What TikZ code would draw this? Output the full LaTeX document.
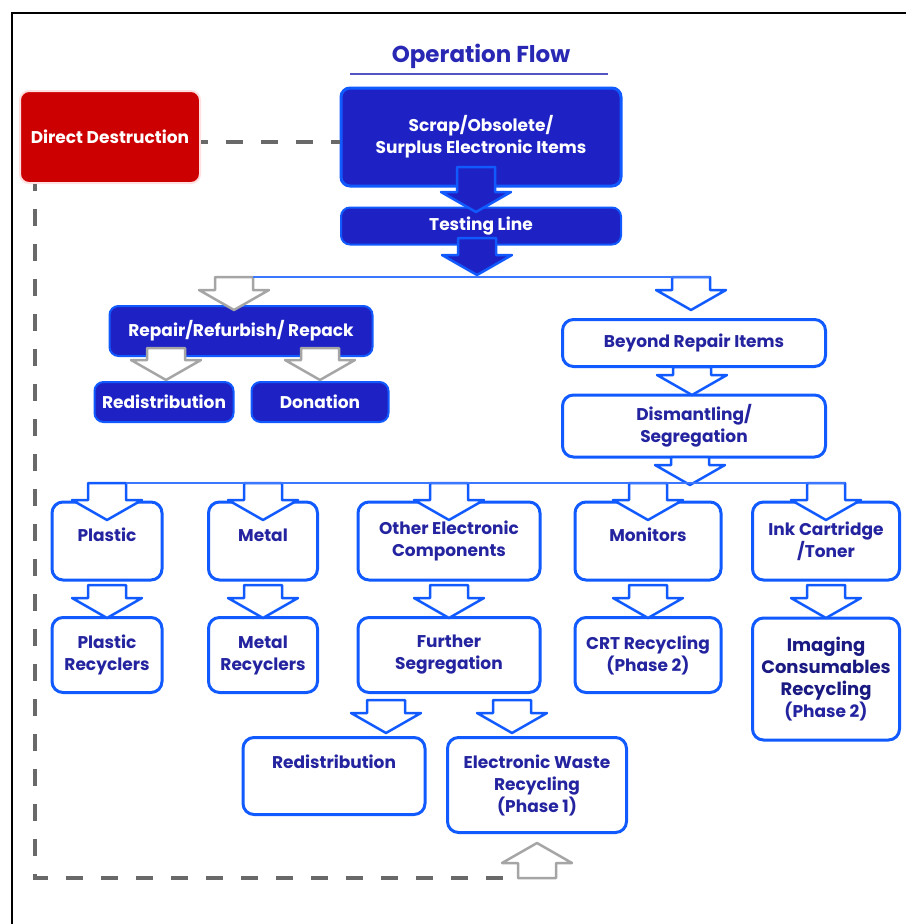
\documentclass[tikz,border=0pt]{standalone}
\usepackage{fontspec}
\setmainfont{Poppins}
\usetikzlibrary{positioning}
\definecolor{opblue}{RGB}{30,34,196}
\definecolor{edgeblue}{RGB}{16,90,255}
\definecolor{lineblue}{RGB}{60,120,255}
\definecolor{navytext}{RGB}{36,36,160}
\definecolor{deepnavy}{RGB}{26,26,130}
\definecolor{titleblue}{RGB}{40,40,180}
\definecolor{destroyred}{RGB}{204,0,0}
\definecolor{arrowgray}{RGB}{165,165,165}
\definecolor{dashgray}{RGB}{105,105,105}

\begin{document}
\begin{tikzpicture}[x=1pt,y=-1pt,
		every node/.style={
			font=\bfseries\fontsize{17}{22}\selectfont,
			align=center
		},
		darkbox/.style={rounded corners=9pt, fill=opblue, draw=edgeblue, line width=2pt, text=white},
		lightbox/.style={rounded corners=11pt, fill=white, draw=edgeblue, line width=3pt, text=navytext},
		toptext/.style={text height=12pt, text depth=12pt},
		darkarrow/.style={fill=opblue, draw=edgeblue, line width=2.5pt, line join=round},
		bluearrow/.style={fill=white, draw=edgeblue, line width=2.5pt, line join=round},
		grayarrow/.style={fill=white, draw=arrowgray, line width=2.5pt, line join=round},
		hubline/.style={lineblue, line width=2.5pt},
		dashline/.style={dashgray, line width=3.5pt, dash pattern=on 17pt off 18pt, dash phase=10pt},
		flowarrow/.pic={
			\draw[pic actions] (-19,0) -- (19,0) -- (19,#1) -- (35,#1) -- (0,#1+20) -- (-35,#1) -- (-19,#1) -- cycle;
			\coordinate (-tl) at (-19,0);
			\coordinate (-tr) at (19,0);
		}
	]
	\def\bigline{\color{deepnavy}\fontsize{18}{23}\selectfont}

	\useasboundingbox (0,0) rectangle (906,924);
	\draw[line width=2.5pt] (906,13) -| (12,924);

	% title
	\node[text=titleblue, font=\bfseries\fontsize{23}{26}\selectfont] (title) at (481,56) {Operation Flow};
	\draw[titleblue!80, line width=2pt] (350,74) -- (608,74);

	% top part
	\node[fill=destroyred, draw=red!12, line width=2pt, rounded corners=9pt, minimum width=180pt, minimum height=92pt, text=white] (destroy) at (110,137) {Direct Destruction};
	\node[darkbox, line width=3pt, minimum width=280pt, minimum height=98pt] (scrap) at (481,137) {Scrap/Obsolete/\\Surplus Electronic Items};
	\node[darkbox, minimum width=280pt, minimum height=37pt] (testing) at (481,226) {Testing Line};

	% left branch
	\node[darkbox, minimum width=263pt, minimum height=50pt] (repair) at (241,331) {Repair/Refurbish/ Repack};
	\node[darkbox, minimum width=139pt, minimum height=40pt] (redist) at (164,402) {Redistribution};
	\node[darkbox, minimum width=137pt, minimum height=40pt] (donate) at (320,402) {Donation};

	% right branch
	\node[lightbox, minimum width=263pt, minimum height=47pt] (beyond) at (694,343) {Beyond Repair Items};
	\node[lightbox, minimum width=263pt, minimum height=62pt] (dismantle) at (694,426) {Dismantling/\\Segregation};

	% materials
	\node[lightbox, toptext, minimum width=110pt, minimum height=78pt] (plastic) at (107,541) {Plastic};
	\node[lightbox, toptext, minimum width=109pt, minimum height=78pt] (metal) at (263,541) {Metal};
	\node[lightbox, minimum width=182pt, minimum height=78pt] (other) at (449,541) {Other Electronic\\Components};
	\node[lightbox, toptext, minimum width=146pt, minimum height=78pt] (monitors) at (648,541) {Monitors};
	\node[lightbox, minimum width=147pt, minimum height=78pt] (ink) at (826,541) {Ink Cartridge\\/Toner};

	\node[lightbox, minimum width=110pt, minimum height=75pt] (plasticrec) at (107,655) {Plastic\\Recyclers};
	\node[lightbox, minimum width=109pt, minimum height=75pt] (metalrec) at (263,655) {Metal\\Recyclers};
	\node[lightbox, minimum width=182pt, minimum height=75pt] (further) at (449,655) {Further\\Segregation};
	\node[lightbox, minimum width=146pt, minimum height=75pt] (crt) at (648,655) {CRT Recycling\\(Phase 2)};
	\node[lightbox, minimum width=147pt, minimum height=122pt] (imaging) at (826,679) {{\bigline Imaging}\\{\bigline Consumables}\\{\bigline Recycling}\\(Phase 2)};

	\node[lightbox, text height=13pt, text depth=28pt, minimum width=182pt, minimum height=77pt] (redist2) at (334,776) {Redistribution};
	\node[lightbox, minimum width=179pt, minimum height=95pt] (ewaste) at (537,785) {Electronic Waste\\Recycling\\(Phase 1)};

	% arrows
	\pic[darkarrow] (s2t) at (476,167) {flowarrow=25};
	\pic[darkarrow] (t2h) at (477,238) {flowarrow=17};
	\pic[grayarrow] (h2r) at (234,277) {flowarrow=13};
	\pic[bluearrow] (h2b) at (691,277) {flowarrow=13};
	\draw[hubline] (h2r-tr) -- (h2b-tr);

	\pic[grayarrow] at (166,348) {flowarrow=12};
	\pic[grayarrow] at (320,348) {flowarrow=12};
	\pic[bluearrow] at (692,367) {flowarrow=8};
	\pic[bluearrow] at (690,457) {flowarrow=8};

	\foreach \n in {plastic,metal,other,monitors,ink}
		\pic[bluearrow] (up\n) at (\n.north |- 0,483) {flowarrow=17};
	\draw[hubline] (upplastic-tr) -- (upink-tr);

	\foreach \n in {plastic,metal,other,monitors,ink}
		\pic[bluearrow] at (\n.south |- 0,585) {flowarrow=13};

	\pic[bluearrow] at (386,700) {flowarrow=13};
	\pic[bluearrow] at (512,700) {flowarrow=13};
	\pic[grayarrow, yscale=-1] (back) at (ewaste.south |- 0,878) {flowarrow=15};

	% destruction path
	\draw[dashline] ([yshift=-5pt]destroy.east) -- ([yshift=-5pt]scrap.west);
	\draw[dashline] ([xshift=16pt]destroy.south west) |- (back-tl);

\end{tikzpicture}
\end{document}
